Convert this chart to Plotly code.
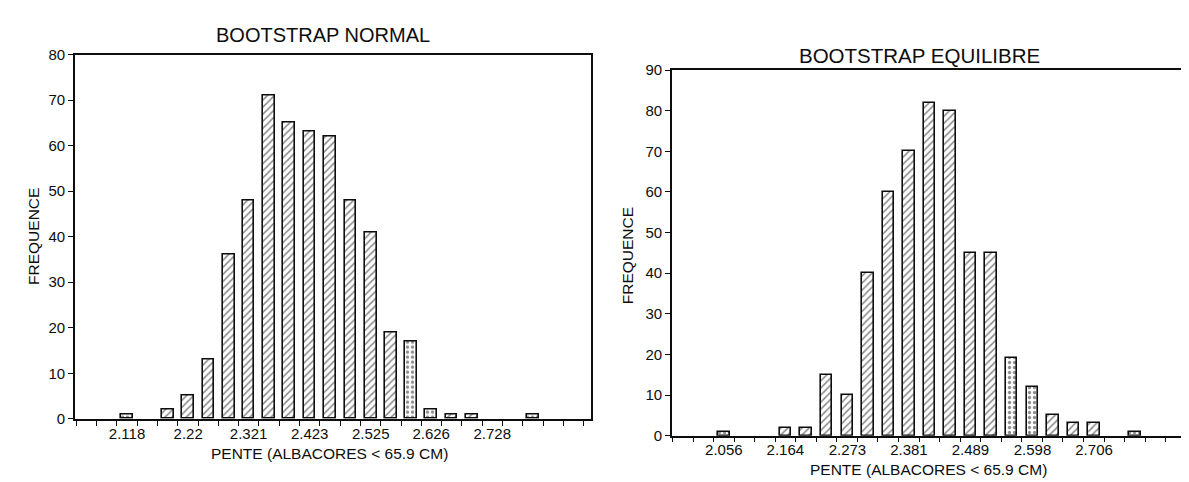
import plotly.graph_objects as go

# ---------------- data ----------------
# Left panel: BOOTSTRAP NORMAL
normal_bins = [2.118, 2.186, 2.220, 2.254, 2.288, 2.321, 2.355, 2.389, 2.423,
               2.457, 2.491, 2.525, 2.559, 2.592, 2.626, 2.660, 2.694, 2.796]
normal_freq = [1, 2, 5, 13, 36, 48, 71, 65, 63, 62, 48, 41, 19, 17, 2, 1, 1, 1]
normal_tickvals = [2.118, 2.22, 2.321, 2.423, 2.525, 2.626, 2.728]
normal_ticktext = ["2.118", "2.22", "2.321", "2.423", "2.525", "2.626", "2.728"]
normal_dotted = [2.118, 2.592, 2.626, 2.796]

# Right panel: BOOTSTRAP EQUILIBRE
equil_bins = [2.056, 2.164, 2.200, 2.236, 2.273, 2.309, 2.345, 2.381, 2.417,
              2.453, 2.489, 2.525, 2.561, 2.598, 2.634, 2.670, 2.706, 2.778]
equil_freq = [1, 2, 2, 15, 10, 40, 60, 70, 82, 80, 45, 45, 19, 12, 5, 3, 3, 1]
equil_tickvals = [2.056, 2.164, 2.273, 2.381, 2.489, 2.598, 2.706]
equil_ticktext = ["2.056", "2.164", "2.273", "2.381", "2.489", "2.598", "2.706"]
equil_dotted = [2.056, 2.561, 2.598, 2.778]

titles = ["BOOTSTRAP NORMAL", "BOOTSTRAP EQUILIBRE"]
x_title = "PENTE (ALBACORES < 65.9 CM)"
y_title = "FREQUENCE"

FONT = "Liberation Sans, Arial, Helvetica, sans-serif"
INK = "#0d0d0d"
W, H = 1189, 482


def shapes_for(bins, dotted):
    return ["." if b in dotted else "/" for b in bins]


def bar(bins, freq, dotted, width, xa, ya):
    return go.Bar(
        x=bins, y=freq, width=width, xaxis=xa, yaxis=ya,
        marker=dict(
            color="white",
            line=dict(color=INK, width=1.6),
            pattern=dict(shape=shapes_for(bins, dotted), fgcolor="#1e1e1e",
                         bgcolor="white", size=5, solidity=0.34),
        ),
        showlegend=False, hoverinfo="x+y",
    )


fig = go.Figure()
fig.add_trace(bar(normal_bins, normal_freq, normal_dotted, 0.0195, "x", "y"))
fig.add_trace(bar(equil_bins, equil_freq, equil_dotted, 0.0205, "x2", "y2"))

axis_common = dict(showline=True, linecolor=INK, linewidth=1.6, mirror=True,
                   showgrid=False, zeroline=False,
                   tickfont=dict(family=FONT, size=15, color=INK))

fig.update_layout(
    width=W, height=H,
    margin=dict(l=0, r=0, t=0, b=0),
    paper_bgcolor="white", plot_bgcolor="white",
    font=dict(family=FONT, color=INK),
    bargap=0,
    xaxis=dict(domain=[67 / W, 583 / W], anchor="y", range=[2.031, 2.893],
               tickmode="array", tickvals=normal_tickvals, ticktext=normal_ticktext,
               ticks="outside", ticklen=0,
               minor=dict(tickmode="linear", tick0=2.101, dtick=0.0339,
                          ticks="outside", ticklen=5, tickcolor=INK, tickwidth=1.3),
               **axis_common),
    yaxis=dict(domain=[1 - 416.5 / H, 1 - 39 / H], anchor="x", range=[0, 80],
               tickmode="linear", tick0=0, dtick=10,
               ticks="outside", ticklen=5, tickcolor=INK, tickwidth=1.3,
               **axis_common),
    xaxis2=dict(domain=[664 / W, 1184 / W], anchor="y2", range=[1.965, 2.878],
                tickmode="array", tickvals=equil_tickvals, ticktext=equil_ticktext,
                ticks="outside", ticklen=0,
                minor=dict(tickmode="linear", tick0=2.038, dtick=0.03608,
                           ticks="outside", ticklen=5, tickcolor=INK, tickwidth=1.3),
                **axis_common),
    yaxis2=dict(domain=[1 - 434 / H, 1 - 55 / H], anchor="x2", range=[0, 90],
                tickmode="linear", tick0=0, dtick=10,
                ticks="outside", ticklen=5, tickcolor=INK, tickwidth=1.3,
                **axis_common),
)


def ann(text, x, y, size, angle=0):
    fig.add_annotation(text=text, x=x / W, y=1 - y / H, xref="paper", yref="paper",
                       xanchor="center", yanchor="middle", showarrow=False,
                       textangle=angle, font=dict(family=FONT, size=size, color=INK))


ann(titles[0], 315, 19, 20)
ann(titles[1], 911, 40, 20.5)
ann(x_title, 322, 452, 15.5)
ann(x_title, 920, 469, 15.5)
ann(y_title, 26, 228, 15.5, -90)
ann(y_title, 619, 248, 15.5, -90)

fig.write_html("out.html")
